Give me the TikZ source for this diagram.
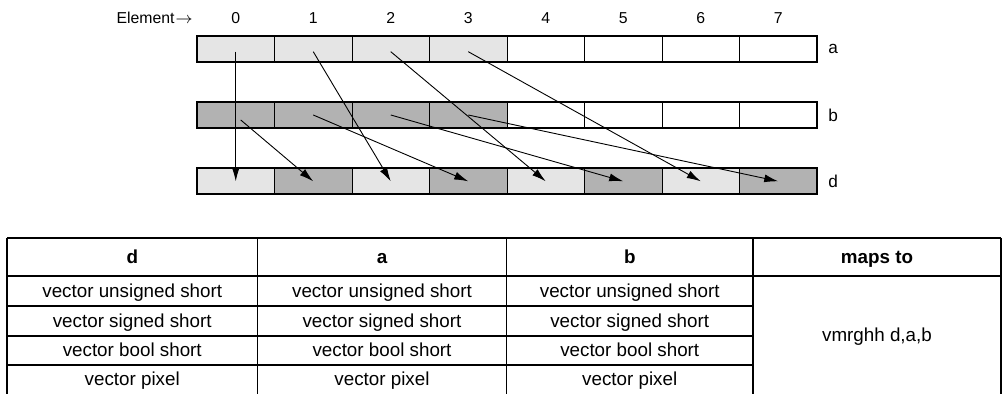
\documentclass[tikz,border=0pt]{standalone}
\usepackage{fontspec}
\setmainfont{Liberation Sans}
\usetikzlibrary{arrows.meta,calc}
\definecolor{ink}{RGB}{0,0,0}
\definecolor{celllight}{HTML}{E5E5E5}
\definecolor{celldark}{HTML}{B2B2B2}

\begin{document}
\begin{tikzpicture}[x=0.5pt, y=-0.5pt,
  cell/.style={draw=ink, line width=0.5pt, minimum width=38.75pt, minimum height=13pt, inner sep=0pt, outer sep=0pt},
  regframe/.style={draw=ink, line width=0.9pt},
  idx/.style={font=\fontsize{7.9}{9}\selectfont, inner sep=0pt, text height=1.6ex, text depth=0pt},
  reglabel/.style={font=\fontsize{8.6}{10}\selectfont, anchor=west, inner sep=0pt},
  move/.style={-{Latex[length=7pt, width=4pt]}, line width=0.45pt, draw=ink},
  tableline/.style={draw=ink, line width=0.9pt},
  head/.style={font=\fontsize{9.4}{11}\selectfont\bfseries, text height=1.6ex, text depth=0.45ex},
  entry/.style={font=\fontsize{9.4}{11}\selectfont, text height=1.6ex, text depth=0.45ex}]
  \useasboundingbox (0,0) rectangle (1002,394);
  \foreach \i in {0,...,3} {
    \node[cell, fill=celllight] (a\i) at (235.75+77.5*\i,48.7) {};
    \node[cell, fill=celldark] (b\i) at (235.75+77.5*\i,115) {};
  }
  \foreach \i in {4,...,7} {
    \node[cell, fill=white] (a\i) at (235.75+77.5*\i,48.7) {};
    \node[cell, fill=white] (b\i) at (235.75+77.5*\i,115) {};
  }
  \foreach \i in {0,2,4,6}
    \node[cell, fill=celllight] (d\i) at (235.75+77.5*\i,181.3) {};
  \foreach \i in {1,3,5,7}
    \node[cell, fill=celldark] (d\i) at (235.75+77.5*\i,181.3) {};
  \foreach \r in {a,b,d} {
    \draw[regframe] (\r0.north west) rectangle (\r7.south east);
    \node[reglabel] (lab\r) at ($(\r7.east)+(11,0)$) {\r};
  }
  \foreach \i in {0,...,7}
    \node[idx] (n\i) at (a\i.center |- 0,15) {\i};
  \node[idx, anchor=east] (elem) at (193,15) {Element\kern0.5pt$\rightarrow$};
  \foreach \i/\j in {0/0,1/2,2/4,3/6}
    \draw[move] ([yshift=-1.5]a\i.center) -- (d\j.center);
  \draw[move] ([shift={(5,5)}]b0.center) -- (d1.center);
  \foreach \i/\j in {1/3,2/5,3/7}
    \draw[move] (b\i.center) -- (d\j.center);
  \draw[tableline] (7,238) -- (1001,238);
  \draw[tableline] (7,276) -- (1001,276);
  \foreach \y in {306,336,365}
    \draw[tableline] (7,\y) -- (753,\y);
  \foreach \x in {7,257.5,506.5,753,1001}
    \draw[tableline] (\x,238) -- (\x,394);
  \foreach \c/\t [count=\k] in {132.25/d,382/a,629.75/b,877/maps to}
    \node[head] (h\k) at (\c,257) {\t};
  \foreach \t/\y [count=\k] in {vector unsigned short/291,vector signed short/321,vector bool short/350.5,vector pixel/379.5} {
    \node[entry] (td\k) at (132.25,\y) {\t};
    \node[entry] (ta\k) at (382,\y) {\t};
    \node[entry] (tb\k) at (629.75,\y) {\t};
  }
  \node[entry] (maps) at (877,335) {vmrghh d,a,b};
\end{tikzpicture}
\end{document}
